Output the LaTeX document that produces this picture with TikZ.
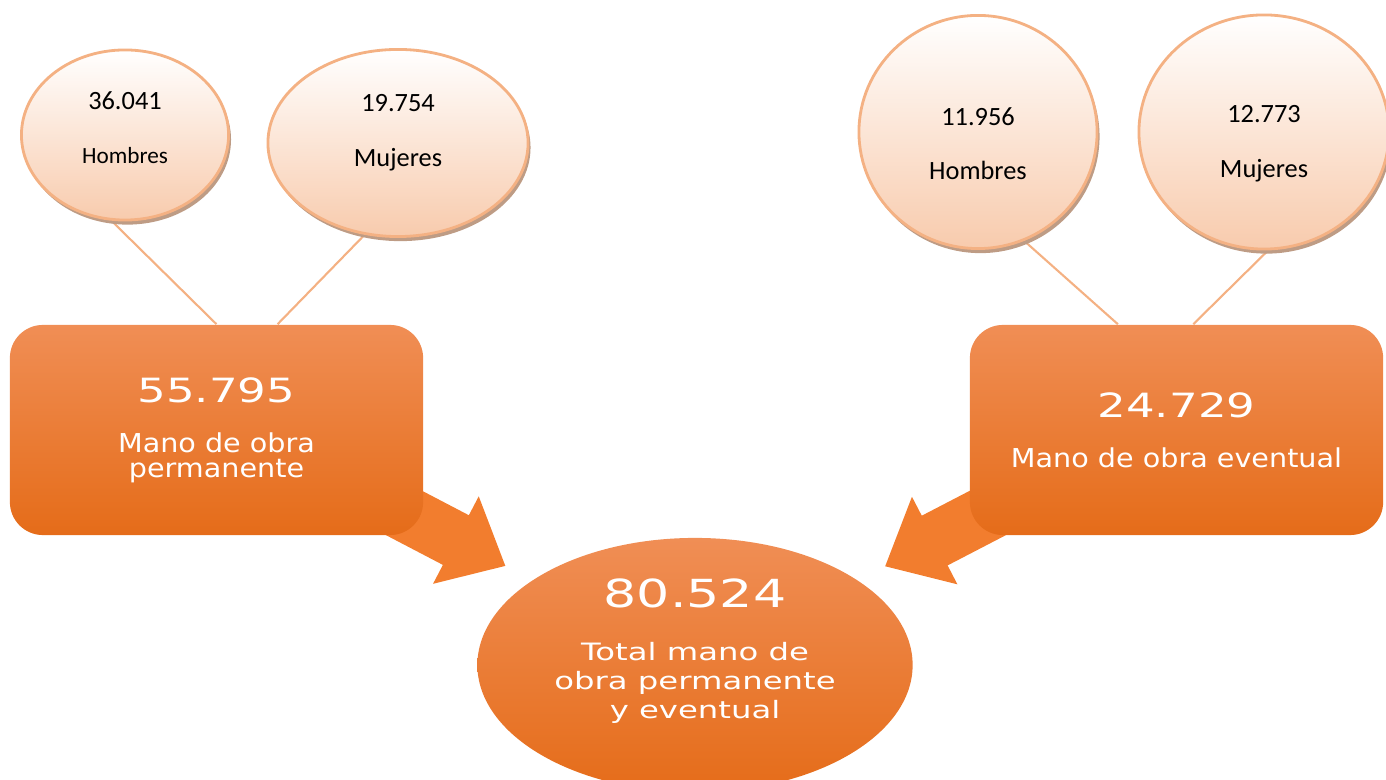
\documentclass[tikz,border=0pt]{standalone}
\usepackage{fontspec}
\setmainfont{Carlito}
\newfontfamily\numfont[FakeStretch=1.35]{DejaVu Sans}
\newfontfamily\boxfont[FakeStretch=1.1]{DejaVu Sans}
\newfontfamily\totfont[FakeStretch=1.35]{DejaVu Sans}
\usetikzlibrary{shapes.geometric,shadows,arrows.meta,backgrounds,positioning}

\definecolor{peachline}{RGB}{244,177,131}
\definecolor{peachfill}{RGB}{248,203,173}
\definecolor{shadowbrown}{RGB}{190,156,133}
\definecolor{boxtop}{RGB}{240,142,85}
\definecolor{boxmid}{RGB}{244,123,42}
\definecolor{boxbot}{RGB}{229,108,25}
\definecolor{arroworange}{RGB}{242,125,46}

\newcommand{\bignum}[1]{{\fontsize{9.5}{9.5}\selectfont\numfont #1}}
\newcommand{\totnum}[1]{{\fontsize{11}{11}\selectfont\numfont #1}}

\begin{document}
\begin{tikzpicture}[x=0.01cm,y=-0.01cm,
	bubble/.style={ellipse,draw=peachline,line width=0.8pt,top color=white,bottom color=peachfill,
		drop shadow={shadow xshift=0.7pt,shadow yshift=-1.3pt,fill=shadowbrown,opacity=1},
		inner sep=0pt,align=center,font=\fontsize{7.5}{9}\selectfont},
	workbox/.style={rectangle,rounded corners=0.33cm,minimum width=4.13cm,minimum height=2.1cm,
		top color=boxtop,middle color=boxmid,bottom color=boxbot,text=white,align=center,
		font=\boxfont\fontsize{7.4}{7.1}\selectfont},
	totalbubble/.style={ellipse,minimum width=4.35cm,minimum height=2.54cm,inner sep=0pt,
		top color=boxtop,middle color=boxmid,bottom color=boxbot,text=white,align=center,
		font=\totfont\fontsize{6.8}{8.2}\selectfont},
	stem/.style={draw=peachline,line width=0.6pt},
	bigarrow/.style={draw=arroworange,line width=0.56cm,-{Triangle[width=0.95cm,length=0.56cm]},shorten >=0.3cm}]

	\useasboundingbox (0,0) rectangle (1386,780);

	% permanente
	\node[bubble,minimum width=2.07cm,minimum height=1.7cm] (lhom) at (125,135)
		{36.041\\[6.4pt]{\fontsize{6.6}{9}\selectfont Hombres}\\[-4.7pt]~};
	\node[bubble,minimum width=2.6cm,minimum height=1.87cm] (lmuj) at (398,143)
		{19.754\\[6.4pt]Mujeres\\[-1.9pt]~};
	\node[workbox] (perm) at (216.5,430) {\bignum{55.795}\\[7.1pt]Mano de obra\\permanente};

	% eventual
	\node[bubble,minimum width=2.38cm,minimum height=2.33cm] (rhom) at (978,132)
		{~\\[2.5pt]11.956\\[6.4pt]Hombres};
	\node[bubble,minimum width=2.5cm,minimum height=2.34cm] (rmuj) at (1264,132)
		{~\\[2.5pt]12.773\\[6.4pt]Mujeres};
	\node[workbox] (event) at (1176.5,430) {\bignum{24.729}\\[7.1pt]Mano de obra eventual};

	% total
	\node[totalbubble] (total) at (695,665)
		{\totnum{80.524}\\[7pt]Total mano de\\obra permanente\\y eventual\\[1.3pt]~};

	\begin{scope}[on background layer]
		\draw[bigarrow] ([yshift=0.15cm]perm.center) -- (total);
		\draw[bigarrow] ([yshift=0.15cm]event.center) -- (total);
		\draw[stem] (lhom.-99) -- (perm.north);
		\draw[stem] (lmuj.-110) -- (perm.60);
		\draw[stem] (rhom.-67) -- (event.119);
		\draw[stem] (rmuj.-88) -- (event.81);
	\end{scope}
\end{tikzpicture}
\end{document}
